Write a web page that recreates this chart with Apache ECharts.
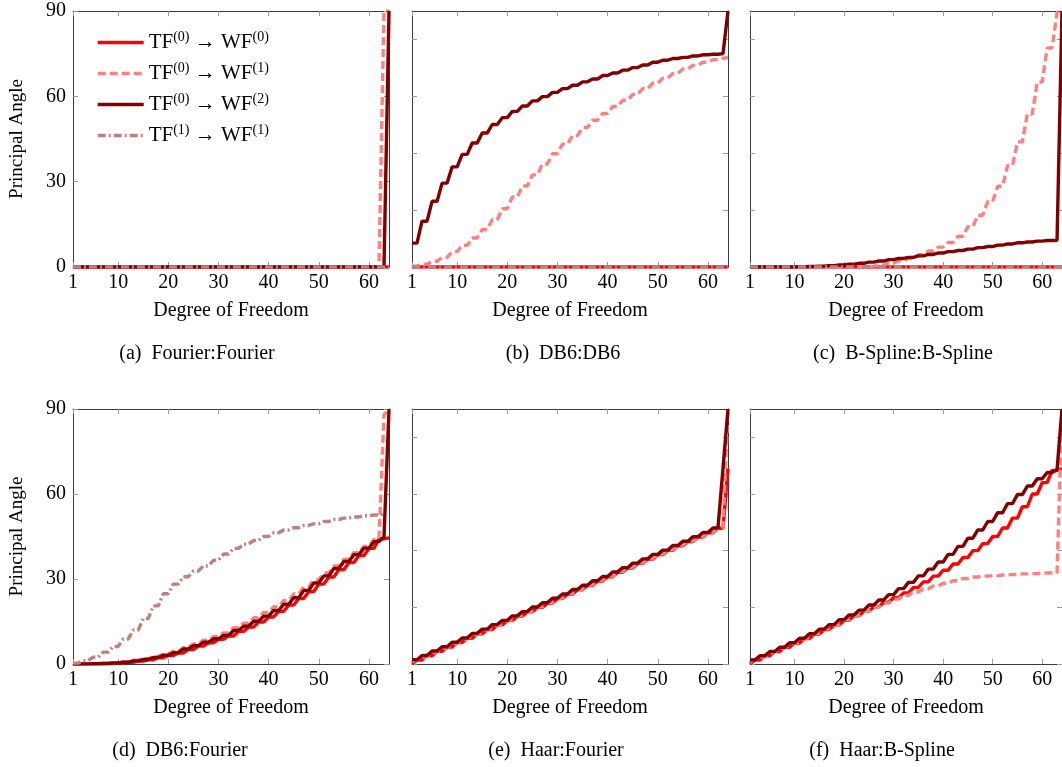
<!DOCTYPE html>
<html><head><meta charset="utf-8">
<script src="https://cdn.jsdelivr.net/npm/echarts@6/dist/echarts.min.js"></script>
<style>html,body{margin:0;padding:0;background:#fff}#c{width:1062px;height:767px}</style>
</head><body><div id="c"></div><script>
const degrees = [1,2,3,4,5,6,7,8,9,10,11,12,13,14,15,16,17,18,19,20,21,22,23,24,25,26,27,28,29,30,31,32,
  33,34,35,36,37,38,39,40,41,42,43,44,45,46,47,48,49,50,51,52,53,54,55,56,57,58,59,60,61,62,63,64];
const xTicks = [1,10,20,30,40,50,60];
const yTicksLabeled = [0,30,60,90];
const yTicksPlain = [0,20,40,60,80];
const seriesNames = ['TF(0) → WF(0)','TF(0) → WF(1)','TF(0) → WF(2)','TF(1) → WF(1)'];
const captions = ['(a)  Fourier:Fourier','(b)  DB6:DB6','(c)  B-Spline:B-Spline','(d)  DB6:Fourier','(e)  Haar:Fourier','(f)  Haar:B-Spline'];
const xTitle = 'Degree of Freedom';
const yTitle = 'Principal Angle';

// (a) Fourier:Fourier
const a_WF0 = [0,0,0,0,0,0,0,0, 0,0,0,0,0,0,0,0, 0,0,0,0,0,0,0,0, 0,0,0,0,0,0,0,0, 0,0,0,0,0,0,0,0, 0,0,0,0,0,0,0,0, 0,0,0,0,0,0,0,0, 0,0,0,0,0,0,0,0];
const a_WF1 = [0,0,0,0,0,0,0,0, 0,0,0,0,0,0,0,0, 0,0,0,0,0,0,0,0, 0,0,0,0,0,0,0,0, 0,0,0,0,0,0,0,0, 0,0,0,0,0,0,0,0, 0,0,0,0,0,0,0,0, 0,0,0,0,0,0,90,90];
const a_WF2 = [0,0,0,0,0,0,0,0, 0,0,0,0,0,0,0,0, 0,0,0,0,0,0,0,0, 0,0,0,0,0,0,0,0, 0,0,0,0,0,0,0,0, 0,0,0,0,0,0,0,0, 0,0,0,0,0,0,0,0, 0,0,0,0,0,0,0,90];
const a_TF1 = [0,0,0,0,0,0,0,0, 0,0,0,0,0,0,0,0, 0,0,0,0,0,0,0,0, 0,0,0,0,0,0,0,0, 0,0,0,0,0,0,0,0, 0,0,0,0,0,0,0,0, 0,0,0,0,0,0,0,0, 0,0,0,0,0,0,0,0];
// (b) DB6:DB6
const b_WF0 = [0,0,0,0,0,0,0,0, 0,0,0,0,0,0,0,0, 0,0,0,0,0,0,0,0, 0,0,0,0,0,0,0,0, 0,0,0,0,0,0,0,0, 0,0,0,0,0,0,0,0, 0,0,0,0,0,0,0,0, 0,0,0,0,0,0,0,0];
const b_WF1 = [0.3,0.3,1.0,1.0,2.0,2.0,3.4,3.4, 5.4,5.4,7.6,7.6,10.2,10.2,13.2,13.2,
  16.6,16.6,20.5,20.5,24.6,24.6,28.5,28.5, 32.4,32.4,36.2,36.2,39.8,39.8,43.2,43.2,
  46.2,46.2,49.0,49.0,51.6,51.6,54.0,54.0, 56.4,56.4,58.6,58.6,60.7,60.7,62.7,62.7,
  64.6,64.6,66.4,66.4,68.0,68.0,69.6,69.6, 70.9,70.9,72.0,72.0,72.9,72.9,73.4,73.6];
const b_WF2 = [8.4,8.4,16.1,16.1,23.1,23.1,29.5,29.5, 35.2,35.2,39.6,39.6,43.6,43.6,47.1,47.1,
  50.1,50.1,52.5,52.5,54.7,54.7,56.6,56.6, 58.4,58.4,59.9,59.9,61.4,61.4,62.7,62.7,
  63.9,63.9,65.1,65.1,66.1,66.1,67.3,67.3, 68.2,68.2,69.2,69.2,70.1,70.1,71.0,71.0,
  72.0,72.0,72.7,72.7,73.3,73.3,73.7,73.7, 74.2,74.2,74.6,74.6,74.8,74.8,75.0,90];
const b_TF1 = [0,0,0,0,0,0,0,0, 0,0,0,0,0,0,0,0, 0,0,0,0,0,0,0,0, 0,0,0,0,0,0,0,0, 0,0,0,0,0,0,0,0, 0,0,0,0,0,0,0,0, 0,0,0,0,0,0,0,0, 0,0,0,0,0,0,0,0];
// (c) B-Spline:B-Spline
const c_WF0 = [0,0,0,0,0,0,0,0, 0,0,0,0,0,0,0,0, 0,0,0,0,0,0,0,0, 0,0,0,0,0,0,0,0, 0,0,0,0,0,0,0,0, 0,0,0,0,0,0,0,0, 0,0,0,0,0,0,0,0, 0,0,0,0,0,0,0,0];
const c_WF1 = [0,0,0,0,0,0,0,0, 0,0,0,0,0,0,0,0, 0,0,0,0,0,0,0,0,
  0.2,0.2,0.6,0.6,1.4,1.4,2.2,2.2, 3.0,3.0,4.3,4.3,5.6,5.6,7.0,7.0,
  8.6,8.6,10.8,10.8,14.2,14.2,18.2,18.2, 23.0,23.0,28.4,28.4,35.6,35.6,44.0,44.0,
  53.8,53.8,65.0,65.0,77.0,77.0,89.5,90];
const c_WF2 = [0,0,0,0,0,0,0,0, 0,0,0.1,0.1,0.2,0.2,0.3,0.3, 0.5,0.5,0.7,0.7,1.0,1.0,1.3,1.3,
  1.7,1.7,2.1,2.1,2.6,2.6,3.0,3.0, 3.4,3.4,3.9,3.9,4.4,4.4,4.9,4.9, 5.4,5.4,5.8,5.8,6.3,6.3,6.8,6.8,
  7.2,7.2,7.7,7.7,8.1,8.1,8.5,8.5, 8.8,8.8,9.1,9.1,9.3,9.3,9.4,90];
const c_TF1 = [0,0,0,0,0,0,0,0, 0,0,0,0,0,0,0,0, 0,0,0,0,0,0,0,0, 0,0,0,0,0,0,0,0, 0,0,0,0,0,0,0,0, 0,0,0,0,0,0,0,0, 0,0,0,0,0,0,0,0, 0,0,0,0,0,0,0,0];
// (d) DB6:Fourier
const d_WF0 = [0,0,0,0.05,0.05,0.1,0.1,0.2, 0.2,0.35,0.35,0.6,0.6,1.0,1.0,1.5,
  1.5,2.2,2.2,3.0,3.0,3.9,3.9,5.1, 5.1,6.3,6.3,7.5,7.5,8.7,8.7,9.9,
  9.9,11.5,11.5,13.0,13.0,14.8,14.8,16.6, 16.6,18.6,18.6,20.8,20.8,23.1,23.1,25.6,
  25.6,28.2,28.2,30.7,30.7,33.3,33.3,35.8, 35.8,38.3,38.3,40.8,40.8,44.2,44.2,44.5];
const d_WF1 = [0,0,0.05,0.05,0.15,0.15,0.3,0.3, 0.5,0.5,0.8,0.8,1.3,1.3,1.9,1.9,
  2.6,2.6,3.5,3.5,4.5,4.5,5.8,5.8, 7.1,7.1,8.4,8.4,9.7,9.7,11.0,11.0,
  12.8,12.8,14.4,14.4,16.3,16.3,18.2,18.2, 20.2,20.2,22.4,22.4,24.7,24.7,27.2,27.2,
  29.7,29.7,32.1,32.1,34.6,34.6,37.0,37.0, 39.3,39.3,41.5,41.5,44.0,44.0,88,90];
const d_WF2 = [0,0,0.05,0.05,0.1,0.1,0.2,0.2, 0.35,0.35,0.6,0.6,1.1,1.1,1.6,1.6,
  2.3,2.3,3.1,3.1,4.0,4.0,5.3,5.3, 6.5,6.5,7.7,7.7,8.9,8.9,10.1,10.1,
  11.8,11.8,13.3,13.3,15.1,15.1,16.9,16.9, 18.9,18.9,21.1,21.1,23.4,23.4,26.0,26.0,
  28.6,28.6,31.1,31.1,33.7,33.7,36.2,36.2, 38.6,38.6,40.9,40.9,43.2,43.2,44.8,90];
const d_TF1 = [0.3,0.3,1.2,1.2,2.4,2.4,4.2,4.2, 6.2,6.2,8.8,8.8,12.0,12.0,16.0,16.0,
  20.5,20.5,24.8,24.8,28.2,28.2,30.8,30.8, 32.8,32.8,34.6,34.6,36.6,36.6,38.8,38.8,
  40.8,40.8,42.3,42.3,43.6,43.6,45.0,45.0, 46.3,46.3,47.3,47.3,48.1,48.1,48.9,48.9,
  49.5,49.5,50.3,50.3,51.0,51.0,51.5,51.5, 51.9,51.9,52.3,52.3,52.6,52.6,53.0,null];
// (e) Haar:Fourier
const e_WF0 = [0,1.4,1.4,2.9,2.9,4.5,4.5,6.0, 6.0,7.6,7.6,9.1,9.1,10.7,10.7,12.2,
  12.2,13.8,13.8,15.3,15.3,16.9,16.9,18.4, 18.4,20.0,20.0,21.5,21.5,23.1,23.1,24.6,
  24.6,26.2,26.2,27.7,27.7,29.3,29.3,30.8, 30.8,32.4,32.4,33.9,33.9,35.5,35.5,37.0,
  37.0,38.6,38.6,40.1,40.1,41.7,41.7,43.2, 43.2,44.8,44.8,46.3,46.3,47.9,47.9,69.0];
const e_WF1 = [0.7,1.6,1.6,3.1,3.1,4.7,4.7,6.2, 6.2,7.8,7.8,9.3,9.3,10.9,10.9,12.4,
  12.4,14.0,14.0,15.5,15.5,17.1,17.1,18.6, 18.6,20.2,20.2,21.7,21.7,23.3,23.3,24.8,
  24.8,26.4,26.4,27.9,27.9,29.5,29.5,31.0, 31.0,32.6,32.6,34.1,34.1,35.7,35.7,37.2,
  37.2,38.8,38.8,40.3,40.3,41.9,41.9,43.4, 43.4,45.0,45.0,46.5,46.5,48.0,48.0,90];
const e_WF2 = [1.5,1.5,3.0,3.0,4.6,4.6,6.1,6.1, 7.7,7.7,9.2,9.2,10.8,10.8,12.3,12.3,
  13.9,13.9,15.4,15.4,17.0,17.0,18.5,18.5, 20.1,20.1,21.6,21.6,23.2,23.2,24.7,24.7,
  26.3,26.3,27.8,27.8,29.4,29.4,30.9,30.9, 32.5,32.5,34.0,34.0,35.6,35.6,37.1,37.1,
  38.7,38.7,40.2,40.2,41.8,41.8,43.3,43.3, 44.9,44.9,46.4,46.4,48.0,48.0,69.0,90];
// (f) Haar:B-Spline
const f_WF0 = [0,1.4,1.4,2.9,2.9,4.4,4.4,5.9, 5.9,7.4,7.4,9.0,9.0,10.6,10.6,12.2,
  12.2,13.8,13.8,15.4,15.4,17.0,17.0,18.6, 18.6,20.2,20.2,21.8,21.8,23.4,23.4,25.1,
  25.1,27.0,27.0,29.0,29.0,31.0,31.0,33.1, 33.1,35.3,35.3,37.6,37.6,40.0,40.0,42.5,
  42.5,45.0,45.0,48.0,48.0,51.5,51.5,55.5, 55.5,60.0,60.0,64.0,64.0,68.3,68.3,69.0];
const f_WF1 = [0.6,1.6,1.6,3.1,3.1,4.6,4.6,6.1, 6.1,7.6,7.6,9.2,9.2,10.8,10.8,12.4,
  12.4,14.0,14.0,15.6,15.6,17.1,17.1,18.6, 18.6,20.1,20.1,21.5,21.5,22.9,22.9,24.2,
  24.2,25.4,25.4,26.5,26.5,27.5,27.5,28.5, 28.5,29.4,29.4,30.2,30.2,30.7,30.7,31.0,
  31.0,31.2,31.2,31.4,31.4,31.6,31.6,31.8, 31.8,31.9,31.9,32.1,32.1,32.2,32.2,90];
const f_WF2 = [1.4,1.4,2.9,2.9,4.4,4.4,5.9,5.9, 7.5,7.5,9.1,9.1,10.7,10.7,12.3,12.3,
  13.9,13.9,15.6,15.6,17.3,17.3,19.0,19.0, 20.8,20.8,22.6,22.6,24.5,24.5,26.6,26.6,
  28.8,28.8,31.1,31.1,33.5,33.5,36.0,36.0, 38.7,38.7,41.5,41.5,44.4,44.4,47.3,47.3,
  50.3,50.3,53.4,53.4,56.6,56.6,59.8,59.8, 62.8,62.8,65.4,65.4,67.6,67.6,68.6,90];

// ---------- layout & style ----------
const FONT = 'Liberation Serif';
const panels = [
  {left:73,  top:11,  h:256, labeled:true,  series:[a_WF0,a_WF1,a_WF2,a_TF1], cap:[197,354]},
  {left:412, top:11,  h:256, labeled:false, series:[b_WF0,b_WF1,b_WF2,b_TF1], cap:[563,354]},
  {left:750, top:11,  h:256, labeled:false, series:[c_WF0,c_WF1,c_WF2,c_TF1], cap:[903,354]},
  {left:73,  top:409, h:255, labeled:true,  series:[d_WF0,d_WF1,d_WF2,d_TF1], cap:[180,751]},
  {left:412, top:409, h:255, labeled:false, series:[e_WF0,e_WF1,e_WF2,null],  cap:[556,751]},
  {left:750, top:409, h:255, labeled:false, series:[f_WF0,f_WF1,f_WF2,null],  cap:[882,751]}
];
const lineStyles = [
  {color:'#ff0000', type:'solid'},
  {color:'#ff8080', type:[8,4]},
  {color:'#800000', type:'solid'},
  {color:'#bf8080', type:[8,3,2,3]}
];
const AXIS = '#3a3a3a', TICK = '#9a9a9a';

const grid = [], xAxis = [], yAxis = [], series = [], graphic = [];
panels.forEach((p, i) => {
  grid.push({left:p.left, top:p.top, width:316, height:p.h, containLabel:false});
  const yt = p.labeled ? yTicksLabeled : yTicksPlain;
  const common = {gridIndex:i, type:'value', splitLine:{show:false},
    axisLine:{show:true, onZero:false, lineStyle:{color:AXIS, width:1}}};
  xAxis.push(Object.assign({}, common, {position:'bottom', min:1, max:64,
    axisTick:{show:true, inside:true, length:5, customValues:xTicks, lineStyle:{color:TICK}},
    axisLabel:{show:true, customValues:xTicks, margin:6, fontSize:20, fontFamily:FONT, color:'#000'},
    name:xTitle, nameLocation:'middle', nameGap:34,
    nameTextStyle:{fontSize:20, fontFamily:FONT, color:'#000'}}));
  xAxis.push(Object.assign({}, common, {position:'top', min:1, max:64,
    axisTick:{show:true, inside:true, length:5, customValues:xTicks, lineStyle:{color:TICK}},
    axisLabel:{show:false}}));
  yAxis.push(Object.assign({}, common, {position:'left', min:0, max:90,
    axisTick:{show:true, inside:true, length:5, customValues:yt, lineStyle:{color:TICK}},
    axisLabel:{show:p.labeled, customValues:yt, margin:7, fontSize:20, fontFamily:FONT, color:'#000'},
    name:p.labeled ? yTitle : '', nameLocation:'middle', nameGap:46,
    nameTextStyle:{fontSize:19, fontFamily:FONT, color:'#000'}}));
  yAxis.push(Object.assign({}, common, {position:'right', min:0, max:90,
    axisTick:{show:true, inside:true, length:5, customValues:yt, lineStyle:{color:TICK}},
    axisLabel:{show:false}}));
  p.series.forEach((arr, k) => {
    if (!arr) return;
    series.push({
      type:'line', name:seriesNames[k], xAxisIndex:2*i, yAxisIndex:2*i,
      data:degrees.map((x, j) => [x, arr[j]]),
      symbol:'none', showSymbol:false, connectNulls:false,
      lineStyle:{color:lineStyles[k].color, type:lineStyles[k].type, width:3.4},
      itemStyle:{color:lineStyles[k].color},
      z:2+k, animation:false
    });
  });
  graphic.push({type:'text', x:p.cap[0], y:p.cap[1],
    style:{text:captions[i], fill:'#000', font:'20px "' + FONT + '"', textAlign:'center', textVerticalAlign:'middle', verticalAlign:'middle'}});
});

const chart = echarts.init(document.getElementById('c'), null, {renderer:'canvas'});
chart.setOption({
  animation:false,
  backgroundColor:'#fff',
  grid, xAxis, yAxis, series, graphic,
  legend:{
    data:seriesNames, orient:'vertical', left:91, top:25,
    itemWidth:46, itemHeight:14, itemGap:6,
    itemStyle:{opacity:0, color:'rgba(0,0,0,0)', borderWidth:0},
    lineStyle:{width:3.4},
    formatter: name => name.replace(/\((\d)\)/g, '{s|($1)}'),
    textStyle:{fontSize:21, fontFamily:FONT, color:'#000', lineHeight:25,
      rich:{s:{fontSize:14, fontFamily:FONT, color:'#000', lineHeight:14, verticalAlign:'top'}}}
  }
});
</script></body></html>
